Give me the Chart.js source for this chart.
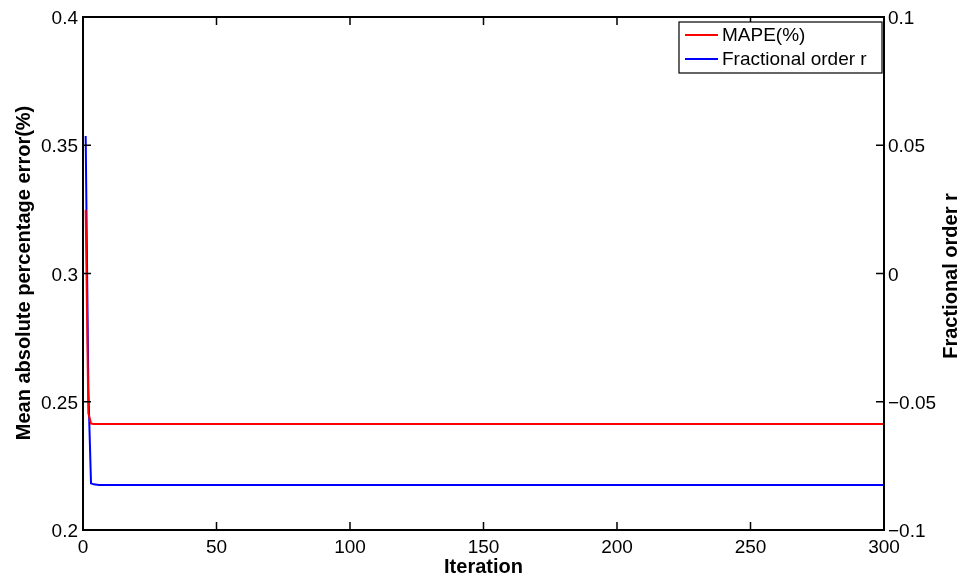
<!DOCTYPE html>
<html>
<head>
<meta charset="utf-8">
<script src="https://cdn.jsdelivr.net/npm/chart.js@4"></script>
<style>
  html, body { margin: 0; padding: 0; background: #fff; }
  #wrap { width: 972px; height: 575px; position: relative; }
</style>
</head>
<body>
<div id="wrap"><canvas id="chart"></canvas></div>
<script>
// iteration history of the fractional model fit
const iterations = [1, 2, 3, 4, 6, 300];
const mapeValues = [0.3248, 0.2456, 0.2415, 0.2413, 0.2413, 0.2413];
const orderValues = [0.0536, -0.045, -0.0818, -0.0822, -0.0825, -0.0825];

const xTicks = [0, 50, 100, 150, 200, 250, 300];
const leftTicks = [0.2, 0.25, 0.3, 0.35, 0.4];
const rightTicks = [-0.1, -0.05, 0, 0.05, 0.1];

const FONT = "'Liberation Sans', Arial, Helvetica, sans-serif";

const toPoints = vals => iterations.map((it, i) => ({ x: it, y: vals[i] }));
const fmt = v => {
  const s = String(Number(Math.abs(v).toFixed(3)));
  return v < -1e-9 ? "\u2212" + s : s;
};

// box, inward tick marks, rotated axis titles and boxed legend
const framePlugin = {
  id: "frame",
  afterDraw(chart) {
    const { ctx, chartArea: a, scales } = chart;
    const tl = 8;
    ctx.save();
    ctx.strokeStyle = "#000";
    ctx.lineWidth = 1.5;

    ctx.beginPath();
    xTicks.forEach(v => {
      const px = scales.x.getPixelForValue(v);
      ctx.moveTo(px, a.bottom); ctx.lineTo(px, a.bottom - tl);
      ctx.moveTo(px, a.top); ctx.lineTo(px, a.top + tl);
    });
    leftTicks.forEach(v => {
      const py = scales.y.getPixelForValue(v);
      ctx.moveTo(a.left, py); ctx.lineTo(a.left + tl, py);
    });
    rightTicks.forEach(v => {
      const py = scales.y1.getPixelForValue(v);
      ctx.moveTo(a.right, py); ctx.lineTo(a.right - tl, py);
    });
    ctx.stroke();

    ctx.lineWidth = 2;
    ctx.strokeRect(a.left, a.top, a.right - a.left, a.bottom - a.top);

    // legend
    const lx = 679, ly = 22, lw = 203, lh = 51;
    ctx.fillStyle = "#fff";
    ctx.fillRect(lx, ly, lw, lh);
    ctx.lineWidth = 1.2;
    ctx.strokeRect(lx, ly, lw, lh);
    ctx.font = "19px " + FONT;
    ctx.textBaseline = "middle";
    ctx.textAlign = "left";
    chart.data.datasets.forEach((ds, i) => {
      const y = ly + 13 + i * 24;
      ctx.strokeStyle = ds.borderColor;
      ctx.lineWidth = 2;
      ctx.beginPath();
      ctx.moveTo(lx + 6, y); ctx.lineTo(lx + 39, y);
      ctx.stroke();
      ctx.fillStyle = "#000";
      ctx.fillText(ds.label, lx + 43, y + 1);
    });

    // axis titles
    ctx.fillStyle = "#000";
    ctx.font = "bold 20px " + FONT;
    ctx.textAlign = "center";
    ctx.fillText("Iteration", (a.left + a.right) / 2, 567);
    [[24, 273, "Mean absolute percentage error(%)"], [951, 276, "Fractional order r"]].forEach(([x, y, t]) => {
      ctx.save();
      ctx.translate(x, y);
      ctx.rotate(-Math.PI / 2);
      ctx.fillText(t, 0, 0);
      ctx.restore();
    });
    ctx.restore();
  }
};

new Chart(document.getElementById("chart"), {
  type: "line",
  data: {
    datasets: [
      {
        label: "MAPE(%)",
        data: toPoints(mapeValues),
        borderColor: "#ff0000",
        borderWidth: 2,
        pointRadius: 0,
        tension: 0,
        yAxisID: "y"
      },
      {
        label: "Fractional order r",
        data: toPoints(orderValues),
        borderColor: "#0000ff",
        borderWidth: 2,
        pointRadius: 0,
        tension: 0,
        yAxisID: "y1"
      }
    ]
  },
  options: {
    responsive: true,
    maintainAspectRatio: false,
    animation: false,
    layout: { padding: { top: 17, left: 0, right: 0, bottom: 0 } },
    plugins: {
      legend: { display: false },
      tooltip: { enabled: false }
    },
    scales: {
      x: {
        type: "linear",
        min: 0,
        max: 300,
        afterFit: s => { s.height = 45; },
        afterBuildTicks: s => { s.ticks = xTicks.map(v => ({ value: v })); },
        grid: { display: false, drawTicks: false },
        border: { display: false },
        ticks: { color: "#000", padding: 6, maxRotation: 0, font: { family: FONT, size: 19 } }
      },
      y: {
        position: "left",
        min: 0.2,
        max: 0.4,
        afterFit: s => { s.width = 83; },
        afterBuildTicks: s => { s.ticks = leftTicks.map(v => ({ value: v })); },
        grid: { display: false, drawTicks: false },
        border: { display: false },
        ticks: { color: "#000", padding: 5, labelOffset: 2, callback: fmt, font: { family: FONT, size: 19 } }
      },
      y1: {
        position: "right",
        min: -0.1,
        max: 0.1,
        afterFit: s => { s.width = 88; },
        afterBuildTicks: s => { s.ticks = rightTicks.map(v => ({ value: v })); },
        grid: { display: false, drawTicks: false },
        border: { display: false },
        ticks: { color: "#000", padding: 4, labelOffset: 2, callback: fmt, font: { family: FONT, size: 19 } }
      }
    }
  },
  plugins: [framePlugin]
});
</script>
</body>
</html>
